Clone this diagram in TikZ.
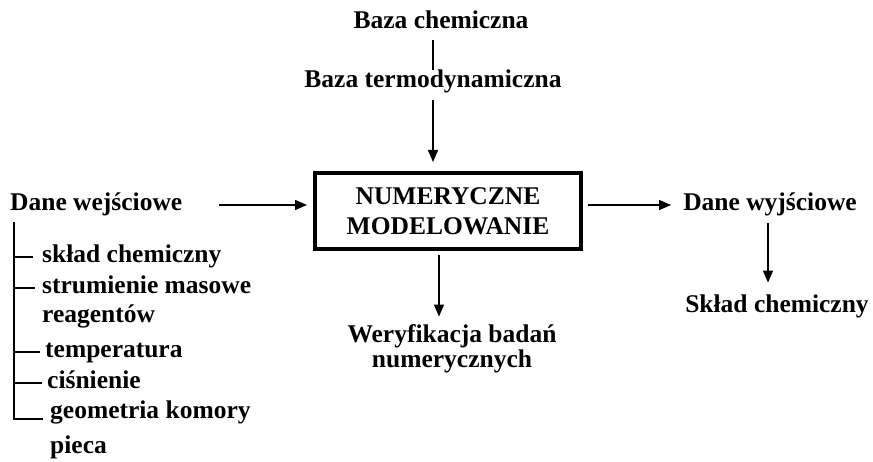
\documentclass[tikz,border=0pt]{standalone}
\usepackage{fontspec}
\setmainfont{Liberation Serif}
\usetikzlibrary{arrows.meta}
\begin{document}
\begin{tikzpicture}[x=1pt,y=-1pt,
  txt/.style={font=\bfseries\fontsize{25.5}{30}\selectfont, inner sep=0pt, text height=17pt, text depth=5.5pt},
  arr/.style={line width=1.4pt, -{Triangle[length=12pt,width=10pt]}},
  ln/.style={line width=1.4pt}]
\useasboundingbox (0,0) rectangle (873,462);
% top
\node[txt] (bc) at (441,23) {Baza chemiczna};
\node[txt] (bt) at (433,82) {Baza termodynamiczna};
\draw[ln, shorten <=6pt, shorten >=1pt] (bt.north |- bc.south) -- (bt.north);
% box
\node[font=\bfseries\fontsize{25.5}{30}\selectfont, inner sep=0pt, draw, line width=4pt,
      minimum width=266pt, minimum height=76pt, align=center] (nm) at (448,211) {NUMERYCZNE\\MODELOWANIE};
\draw[arr, shorten <=7pt, shorten >=9pt] (bt.south) -- (bt.south |- nm.north);
% left input
\node[txt, anchor=west] (dw) at (10,205) {Dane wejściowe};
\draw[arr, shorten <=37pt, shorten >=6pt] (dw.east) -- (nm.west |- dw.east);
% right output
\node[txt] (dy) at (770,205) {Dane wyjściowe};
\draw[arr, shorten <=5pt, shorten >=12pt] (nm.east |- dy.west) -- (dy.west);
\node[txt] (sc) at (777,307) {Skład chemiczny};
\draw[arr, shorten <=7pt, shorten >=13pt] ([xshift=-2pt]dy.south) -- ([xshift=-2pt]dy.south |- sc.north);
% bottom
\node[txt] (wb1) at (452,337) {Weryfikacja badań};
\node[txt] (wb2) at (452,362) {numerycznych};
\draw[arr, shorten <=4pt, shorten >=9pt] ([xshift=-9pt]nm.south) -- ([xshift=-9pt]nm.south |- wb1.north);
% input list
\node[txt, anchor=west] (s1) at (42,257) {skład chemiczny};
\node[txt, anchor=west] (s2a) at (42,288) {strumienie masowe};
\node[txt, anchor=west] (s2b) at (42,317) {reagentów};
\node[txt, anchor=west] (s3) at (45,352) {temperatura};
\node[txt, anchor=west] (s4) at (47,383) {ciśnienie};
\node[txt, anchor=west] (s5a) at (50,413) {geometria komory};
\node[txt, anchor=west] (s5b) at (50,448) {pieca};
\coordinate (top) at (14,222);
\coordinate (bot) at (14,419);
\draw[ln] (top) -- (bot) -- ([xshift=-7pt]s5a.west |- bot);
\draw[ln] (s1.west -| top) -- ([xshift=-9pt]s1.west);
\draw[ln] (s2a.west -| top) -- ([xshift=-7pt]s2a.west);
\draw[ln] (s3.west -| top) -- ([xshift=-5pt]s3.west);
\draw[ln] (s4.west -| top) -- ([xshift=-5pt]s4.west);
\end{tikzpicture}
\end{document}
